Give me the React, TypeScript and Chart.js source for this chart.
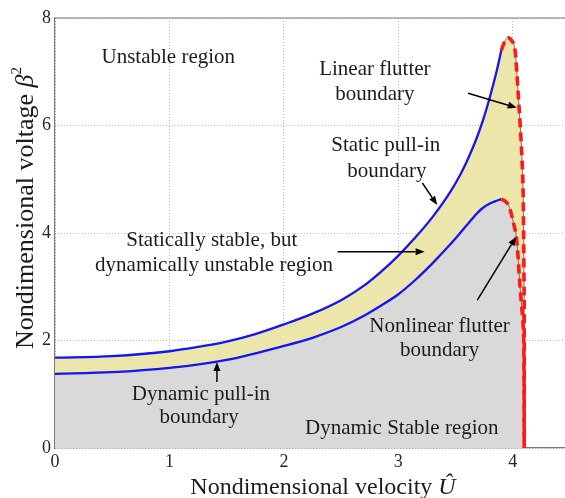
import React, { useEffect, useRef } from 'react';
import { Chart, registerables } from 'chart.js';

Chart.register(...registerables);

// Static pull-in boundary (upper blue curve)
const staticPullInU = [0, 0.5, 1.0, 1.25, 1.5, 1.75, 2.0, 2.25, 2.5, 2.7, 2.85, 3.0, 3.15, 3.3, 3.45, 3.54, 3.6, 3.68, 3.74, 3.8, 3.86, 3.9];
const staticPullInB = [1.68, 1.71, 1.8, 1.88, 1.98, 2.12, 2.3, 2.5, 2.75, 3.02, 3.28, 3.58, 3.92, 4.3, 4.75, 5.08, 5.34, 5.74, 6.1, 6.53, 7.02, 7.4];

// Dynamic pull-in boundary (lower blue curve)
const dynamicPullInU = [0, 0.5, 1.0, 1.5, 2.0, 2.25, 2.5, 2.7, 2.85, 3.0, 3.15, 3.3, 3.45, 3.54, 3.62, 3.68, 3.74, 3.8, 3.86, 3.9];
const dynamicPullInB = [1.38, 1.41, 1.49, 1.64, 1.9, 2.05, 2.25, 2.46, 2.65, 2.86, 3.13, 3.44, 3.78, 4.0, 4.2, 4.35, 4.47, 4.55, 4.6, 4.63];

// Linear flutter boundary (red dashed, from the static pull-in tip)
const linearFlutterU = [3.9, 3.93, 3.96, 3.99, 4.02, 4.035, 4.05, 4.065, 4.08, 4.09, 4.095, 4.1, 4.1];
const linearFlutterB = [7.4, 7.57, 7.63, 7.58, 7.4, 7.0, 6.5, 6.0, 5.4, 4.8, 4.0, 2.8, 0];

// Nonlinear flutter boundary (red dashed, from the dynamic pull-in tip)
const nonlinearFlutterU = [3.9, 3.94, 3.97, 3.99, 4.01, 4.03, 4.045, 4.06, 4.075, 4.09, 4.098, 4.1];
const nonlinearFlutterB = [4.63, 4.58, 4.48, 4.33, 4.15, 3.95, 3.6, 3.1, 2.7, 2.3, 1.5, 0];

const xTickValues = [0, 1, 2, 3, 4];
const yTickValues = [0, 2, 4, 6, 8];

// Region annotations: text line, centre velocity, baseline voltage
const regionLabels: [string, number, number][] = [
  ['Unstable region', 0.99, 7.16],
  ['Linear flutter', 2.795, 6.94],
  ['boundary', 2.795, 6.47],
  ['Static pull-in', 2.89, 5.53],
  ['boundary', 2.9, 5.04],
  ['Statically stable, but', 1.37, 3.76],
  ['dynamically unstable region', 1.39, 3.29],
  ['Nonlinear flutter', 3.36, 2.16],
  ['boundary', 3.36, 1.71],
  ['Dynamic pull-in', 1.275, 0.89],
  ['boundary', 1.26, 0.465],
  ['Dynamic Stable region', 3.03, 0.26],
];

// Pointer arrows: tail (u, b) -> head (u, b)
const pointerArrows: [number, number, number, number][] = [
  [3.61, 6.6, 4.035, 6.33],
  [3.21, 4.93, 3.34, 4.52],
  [2.47, 3.65, 3.23, 3.65],
  [3.69, 2.75, 4.03, 3.93],
  [1.415, 1.23, 1.415, 1.6],
];

const SERIF = '"Liberation Serif", "Times New Roman", serif';
const TEXT = '#1c1c1c';

const toPoints = (us: number[], bs: number[]) => us.map((u, i) => ({ x: u, y: bs[i] }));

type Run = { text: string; font: string; dy?: number };

function drawRuns(ctx: CanvasRenderingContext2D, runs: Run[], x: number, y: number) {
  const widths = runs.map((r) => {
    ctx.font = r.font;
    return ctx.measureText(r.text).width;
  });
  const total = widths.reduce((a, b) => a + b, 0);
  let cx = x - total / 2;
  ctx.textAlign = 'left';
  ctx.textBaseline = 'alphabetic';
  runs.forEach((r, i) => {
    ctx.font = r.font;
    ctx.fillText(r.text, cx, y + (r.dy || 0));
    cx += widths[i];
  });
}

const annotationPlugin = {
  id: 'regionAnnotations',
  afterDraw(chart: any) {
    const { ctx, chartArea, scales } = chart;
    const xs = scales.x;
    const ys = scales.y;
    ctx.save();

    // closing frame line along the top of the plot
    ctx.strokeStyle = '#7a7a7a';
    ctx.lineWidth = 1.2;
    ctx.beginPath();
    ctx.moveTo(chartArea.left, chartArea.top);
    ctx.lineTo(chartArea.right, chartArea.top);
    ctx.stroke();

    // region labels
    ctx.fillStyle = TEXT;
    ctx.font = `21px ${SERIF}`;
    ctx.textAlign = 'center';
    ctx.textBaseline = 'alphabetic';
    regionLabels.forEach(([t, u, b]) => {
      ctx.fillText(t, xs.getPixelForValue(u), ys.getPixelForValue(b));
    });

    // arrows
    ctx.strokeStyle = '#000';
    ctx.fillStyle = '#000';
    ctx.lineWidth = 1.5;
    pointerArrows.forEach(([u0, b0, u1, b1]) => {
      const x0 = xs.getPixelForValue(u0);
      const y0 = ys.getPixelForValue(b0);
      const x1 = xs.getPixelForValue(u1);
      const y1 = ys.getPixelForValue(b1);
      const a = Math.atan2(y1 - y0, x1 - x0);
      const len = 9;
      const hw = 3.5;
      const bx = x1 - len * Math.cos(a);
      const by = y1 - len * Math.sin(a);
      ctx.beginPath();
      ctx.moveTo(x0, y0);
      ctx.lineTo(bx, by);
      ctx.stroke();
      ctx.beginPath();
      ctx.moveTo(x1, y1);
      ctx.lineTo(bx + hw * Math.sin(a), by - hw * Math.cos(a));
      ctx.lineTo(bx - hw * Math.sin(a), by + hw * Math.cos(a));
      ctx.closePath();
      ctx.fill();
    });

    // axis titles
    ctx.fillStyle = TEXT;
    drawRuns(
      ctx,
      [
        { text: 'Nondimensional velocity ', font: `24px ${SERIF}` },
        { text: 'Û', font: `italic 24px ${SERIF}` },
      ],
      323,
      494
    );
    ctx.save();
    ctx.translate(33, 208);
    ctx.rotate(-Math.PI / 2);
    drawRuns(
      ctx,
      [
        { text: 'Nondimensional voltage ', font: `26px ${SERIF}` },
        { text: 'β', font: `italic 26px ${SERIF}` },
        { text: '2', font: `15px ${SERIF}`, dy: -12 },
      ],
      0,
      0
    );
    ctx.restore();
    ctx.restore();
  },
};

export default function App() {
  const canvasRef = useRef<HTMLCanvasElement | null>(null);

  useEffect(() => {
    const canvas = canvasRef.current;
    if (!canvas) return;

    const staticPts = toPoints(staticPullInU, staticPullInB);
    const dynamicPts = toPoints(dynamicPullInU, dynamicPullInB);
    const linearPts = toPoints(linearFlutterU, linearFlutterB);
    const nonlinearPts = toPoints(nonlinearFlutterU, nonlinearFlutterB);

    const smooth = { pointRadius: 0, cubicInterpolationMode: 'monotone' };

    const chart = new Chart(canvas, {
      type: 'line',
      data: {
        datasets: [
          {
            label: 'statically stable, dynamically unstable',
            data: [...staticPts, ...linearPts.slice(1)],
            backgroundColor: '#ede6aa',
            borderColor: '#6e6e6e',
            borderWidth: 1,
            ...smooth,
            fill: 'origin',
            order: 6,
          },
          {
            label: 'dynamic stable',
            data: [...dynamicPts, ...nonlinearPts.slice(1)],
            backgroundColor: '#d9d9d9',
            borderColor: '#6e6e6e',
            borderWidth: 1,
            ...smooth,
            fill: 'origin',
            order: 5,
          },
          {
            label: 'Static pull-in boundary',
            data: staticPts,
            borderColor: '#1414f5',
            borderWidth: 2.3,
            ...smooth,
            fill: false,
            order: 4,
          },
          {
            label: 'Dynamic pull-in boundary',
            data: dynamicPts,
            borderColor: '#1414f5',
            borderWidth: 2.3,
            ...smooth,
            fill: false,
            order: 3,
          },
          {
            label: 'Nonlinear flutter boundary',
            data: nonlinearPts,
            borderColor: '#ff1a1a',
            borderWidth: 3.6,
            borderDash: [9, 5],
            ...smooth,
            fill: false,
            order: 2,
          },
          {
            label: 'Linear flutter boundary',
            data: linearPts,
            borderColor: '#ff1a1a',
            borderWidth: 3.6,
            borderDash: [9, 5],
            ...smooth,
            fill: false,
            order: 1,
          },
        ],
      },
      options: {
        responsive: false,
        devicePixelRatio: 1,
        animation: false,
        layout: { padding: { top: 18, right: 2, bottom: 0, left: 0 } },
        plugins: {
          legend: { display: false },
          tooltip: { enabled: false },
        },
        scales: {
          x: {
            type: 'linear',
            min: 0,
            max: 4.5,
            z: 1,
            afterBuildTicks: (scale: any) => {
              scale.ticks = xTickValues.map((v) => ({ value: v }));
            },
            afterFit: (scale: any) => {
              scale.height = 50;
            },
            ticks: {
              padding: 3,
              color: '#262626',
              font: { family: SERIF, size: 18 },
              maxRotation: 0,
              callback: (v: any) => String(v),
            },
            grid: { color: '#b8b8b8', lineWidth: 1, drawTicks: false },
            border: { color: '#7a7a7a', width: 1.2, dash: [1, 2] },
          },
          y: {
            type: 'linear',
            min: 0,
            max: 8,
            z: 1,
            afterBuildTicks: (scale: any) => {
              scale.ticks = yTickValues.map((v) => ({ value: v }));
            },
            afterFit: (scale: any) => {
              scale.width = 55;
            },
            ticks: {
              padding: 4,
              color: '#262626',
              font: { family: SERIF, size: 18 },
              callback: (v: any) => String(v),
            },
            grid: { color: '#b8b8b8', lineWidth: 1, drawTicks: false },
            border: { color: '#7a7a7a', width: 1.2, dash: [1, 2] },
          },
        },
      },
      plugins: [annotationPlugin],
    } as any);

    return () => chart.destroy();
  }, []);

  return (
    <div
      style={{
        position: 'absolute',
        left: 0,
        top: 0,
        width: 565,
        height: 498,
        overflow: 'hidden',
        background: '#fff',
      }}
    >
      <canvas ref={canvasRef} width={572} height={498} style={{ display: 'block' }} />
    </div>
  );
}
